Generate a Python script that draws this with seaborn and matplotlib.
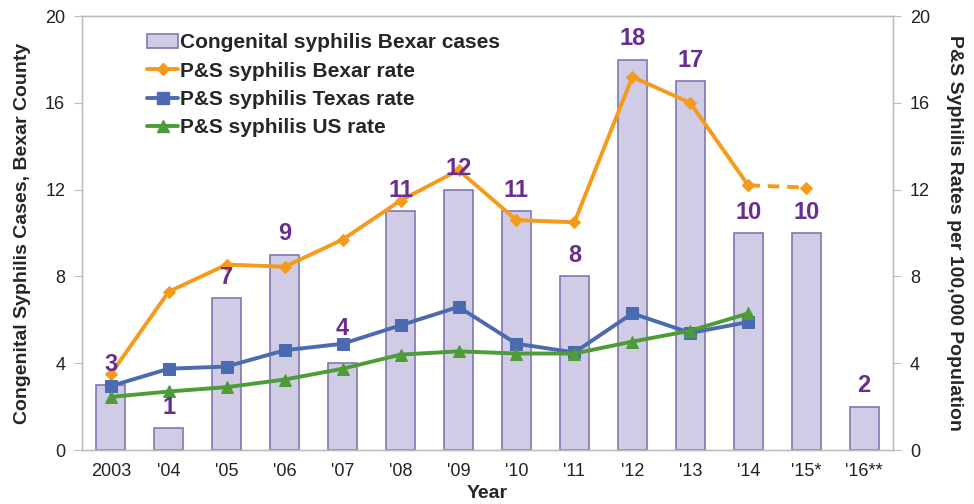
import numpy as np
import pandas as pd
import seaborn as sns
import matplotlib.pyplot as plt
from matplotlib.lines import Line2D
from matplotlib.patches import Patch

# values
years = ["2003", "'04", "'05", "'06", "'07", "'08", "'09", "'10", "'11",
         "'12", "'13", "'14", "'15*", "'16**"]
cases = [3, 1, 7, 9, 4, 11, 12, 11, 8, 18, 17, 10, 10, 2]
bexar_rate = [3.5, 7.3, 8.55, 8.45, 9.7, 11.5, 12.9, 10.6, 10.5, 17.2, 16.0, 12.2]
bexar_rate_prelim = [12.2, 12.1]   # '14 -> '15* (dashed)
texas_rate = [2.95, 3.75, 3.85, 4.6, 4.9, 5.75, 6.6, 4.9, 4.5, 6.3, 5.4, 5.9]
us_rate = [2.45, 2.7, 2.9, 3.25, 3.75, 4.4, 4.55, 4.45, 4.45, 5.0, 5.5, 6.3]

bar_face = "#D1CCE6"
bar_edge = "#7F77B4"
orange = "#F59A1B"
blue = "#4A6AB2"
green = "#4E9C37"
purple = "#6A2C8E"
grey = "#BDBDBD"

sns.set_style("white")
plt.rcParams["font.family"] = ["Liberation Sans", "DejaVu Sans"]

df = pd.DataFrame({"year": years, "cases": cases})

fig = plt.figure(figsize=(9.74, 5.04), dpi=100)
ax = fig.add_axes([0.084, 0.107, 0.833, 0.861])

sns.barplot(data=df, x="year", y="cases", ax=ax, width=0.5,
            color=bar_face, edgecolor=bar_edge, linewidth=1.2, saturation=1)

# rate lines, placed on the bar categories by index
pos = np.arange(len(years))
sns.lineplot(x=pos[:len(bexar_rate)], y=bexar_rate, ax=ax, color=orange,
             lw=2.8, marker="D", markersize=6, markeredgecolor=orange)
i14 = years.index("'14")
sns.lineplot(x=pos[i14:i14 + 2], y=bexar_rate_prelim, ax=ax, color=orange,
             lw=2.8, ls=(0, (3, 2)), marker="D", markersize=6,
             markeredgecolor=orange)
sns.lineplot(x=pos[:len(texas_rate)], y=texas_rate, ax=ax, color=blue,
             lw=2.8, marker="s", markersize=9, markeredgecolor=blue)
sns.lineplot(x=pos[:len(us_rate)], y=us_rate, ax=ax, color=green,
             lw=2.8, marker="^", markersize=9, markeredgecolor=green)

# bar value labels
for i, v in enumerate(cases):
    off = 25 if years[i] == "'07" else 15
    ax.annotate(str(v), (i, v), xytext=(0, off), textcoords="offset points",
                ha="center", va="center", fontsize=17, fontweight="bold",
                color=purple)

ax.set_xlim(-0.5, len(years) - 0.5)
ax.set_ylim(0, 20)
ax.set_yticks(range(0, 21, 4))
ax.set_xlabel("Year", fontsize=14, fontweight="bold", labelpad=4)
ax.set_ylabel("Congenital Syphilis Cases, Bexar County", fontsize=14,
              fontweight="bold", labelpad=10)
ax.set_xticks(pos, years)
ax.set_xticks(np.arange(-0.5, len(years)), minor=True)
ax.tick_params(axis="x", which="major", length=0, pad=9, labelsize=13,
               labelcolor="#222222")
ax.tick_params(axis="x", which="minor", length=6, color=grey, direction="out")
ax.tick_params(axis="y", length=6, color=grey, direction="out", left=True,
               labelsize=13, labelcolor="#222222", pad=6)

ax2 = ax.twinx()
ax2.set_ylim(0, 20)
ax2.set_yticks(range(0, 21, 4))
ax2.tick_params(axis="y", length=6, color=grey, direction="out", right=True,
                labelsize=13, labelcolor="#222222", pad=6)
ax2.set_ylabel("P&S Syphilis Rates per 100,000 Population", fontsize=14,
               fontweight="bold", rotation=270, labelpad=24)

for a in (ax, ax2):
    for s in a.spines.values():
        s.set_color(grey)
        s.set_linewidth(1.0)

handles = [
    Patch(facecolor=bar_face, edgecolor=bar_edge, linewidth=1.2),
    Line2D([], [], color=orange, lw=2.8, marker="D", markersize=6),
    Line2D([], [], color=blue, lw=2.8, marker="s", markersize=9),
    Line2D([], [], color=green, lw=2.8, marker="^", markersize=9),
]
labels = ["Congenital syphilis Bexar cases", "P&S syphilis Bexar rate",
          "P&S syphilis Texas rate", "P&S syphilis US rate"]
ax.legend(handles, labels, loc="upper left", bbox_to_anchor=(0.07, 0.98),
          frameon=False, prop={"size": 15, "weight": "bold"},
          handlelength=1.5, handletextpad=0.1, labelspacing=0.45,
          borderaxespad=0)

fig.savefig("out.png", dpi=100)
